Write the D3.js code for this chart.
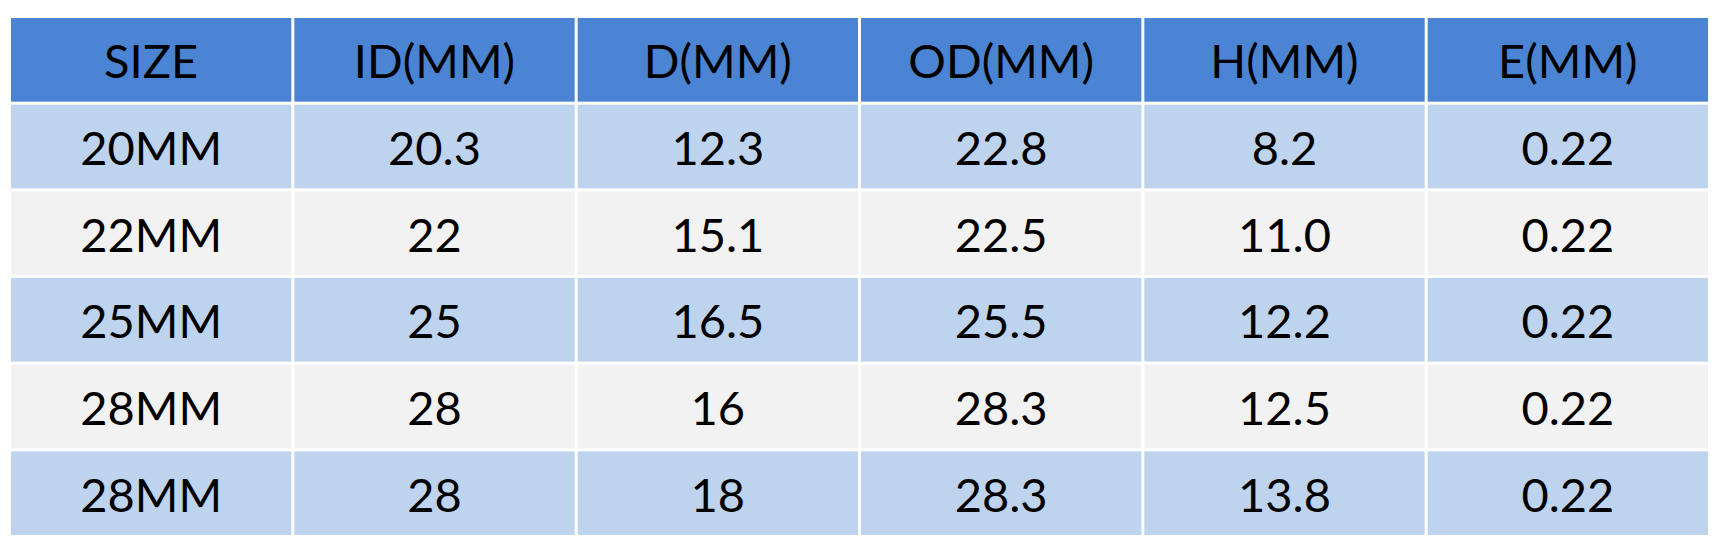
<!DOCTYPE html>
<html>
<head>
<meta charset="utf-8">
<script src="https://cdn.jsdelivr.net/npm/d3@7"></script>
<style>
  body { margin: 0; background: #fff; }
  svg { display: block; }
</style>
</head>
<body>
<svg id="table"></svg>
<script>
// table contents
const headers = ["SIZE", "ID(MM)", "D(MM)", "OD(MM)", "H(MM)", "E(MM)"];
const sizes = ["20MM", "22MM", "25MM", "28MM", "28MM"];
const idMM = ["20.3", "22", "25", "28", "28"];
const dMM = ["12.3", "15.1", "16.5", "16", "18"];
const odMM = ["22.8", "22.5", "25.5", "28.3", "28.3"];
const hMM = ["8.2", "11.0", "12.2", "12.5", "13.8"];
const eMM = ["0.22", "0.22", "0.22", "0.22", "0.22"];

const width = 1719, height = 545;
const svg = d3.select("#table")
    .attr("width", width)
    .attr("height", height);

const columns = [sizes, idMM, dMM, odMM, hMM, eMM];
const rows = sizes.map((s, r) => columns.map(col => col[r]));

// equal columns and rows, white gap between cells
const x = d3.scaleBand()
    .domain(d3.range(headers.length))
    .range([11, 1708])
    .paddingInner(3 / 283);

const y = d3.scaleBand()
    .domain(d3.range(rows.length + 1))
    .range([18, 535])
    .paddingInner(3 / 86);

const headerFill = "#4a84d2";
const rowFills = ["#bed4ee", "#f2f2f2"];

const cells = [];
headers.forEach((h, c) => cells.push({ row: 0, col: c, text: h }));
rows.forEach((vals, r) => vals.forEach((v, c) => cells.push({ row: r + 1, col: c, text: v })));

const g = svg.selectAll("g.cell")
    .data(cells)
    .enter().append("g")
    .attr("class", "cell")
    .attr("transform", d => `translate(${x(d.col)}, ${y(d.row)})`);

g.append("rect")
    .attr("width", x.bandwidth())
    .attr("height", y.bandwidth())
    .attr("fill", d => d.row === 0 ? headerFill : rowFills[(d.row - 1) % 2]);

g.append("text")
    .attr("x", x.bandwidth() / 2)
    .attr("y", y.bandwidth() / 2 + 2)
    .attr("dy", "0.35em")
    .attr("text-anchor", "middle")
    .style("font-family", "Lato, 'Open Sans', sans-serif")
    .style("font-size", "47px")
    .style("fill", "#000")
    .text(d => d.text);
</script>
</body>
</html>
